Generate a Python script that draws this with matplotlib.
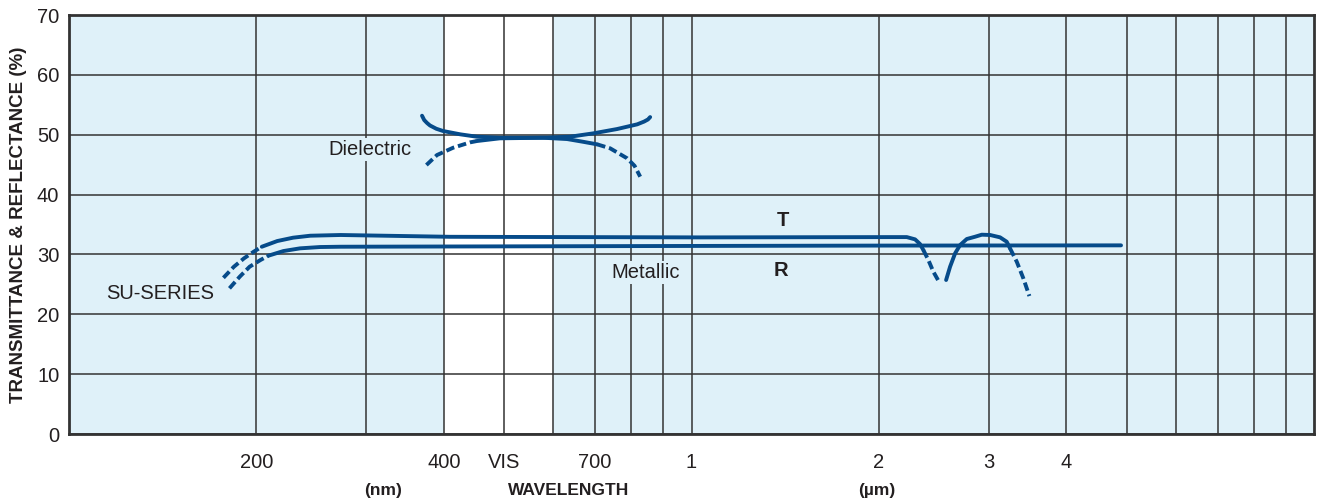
import numpy as np
import matplotlib.pyplot as plt
from matplotlib.ticker import FixedLocator, NullFormatter
import matplotlib.transforms as mtransforms

plt.rcParams["font.family"] = ["Liberation Sans", "DejaVu Sans"]

# --- data (wavelength in nm, value in %) ---

# SU-SERIES metallic, T curve
t_dash1_wl = [177, 184, 191, 198, 204]
t_dash1_val = [26.1, 27.95, 29.35, 30.46, 31.29]
t_solid1_wl = [204, 216, 229, 244, 273, 409, 1032, 2084, 2217, 2286, 2328, 2357]
t_solid1_val = [31.29, 32.24, 32.80, 33.13, 33.25, 32.95, 32.85, 32.9, 32.9, 32.52, 31.74, 30.74]
t_dash2_wl = [2357, 2401, 2446, 2492]
t_dash2_val = [30.74, 29.07, 27.11, 25.61]
t_solid2_wl = [2564, 2602, 2651, 2700, 2768, 2854, 2926, 3017, 3130, 3208, 3248]
t_solid2_val = [25.73, 27.95, 30.19, 31.57, 32.58, 32.96, 33.30, 33.25, 32.86, 32.13, 31.02]
t_dash3_wl = [3248, 3330, 3412, 3489]
t_dash3_val = [31.02, 28.78, 26.01, 23.05]

# SU-SERIES metallic, R curve
r_dash_wl = [181, 188, 195, 203, 209]
r_dash_val = [24.34, 26.28, 27.95, 29.07, 29.79]
r_solid_wl = [209, 221, 235, 253, 273, 500, 1000, 2000, 4897]
r_solid_val = [29.79, 30.57, 31.02, 31.24, 31.29, 31.35, 31.42, 31.48, 31.52]

# Dielectric, U-shaped curve
du_wl = [369, 372, 376, 380, 389, 399, 425, 452, 492, 577, 638, 695, 759,
         818, 839, 851, 858]
du_val = [53.18, 52.45, 51.95, 51.55, 51.0, 50.62, 50.07, 49.67, 49.5, 49.5,
          49.67, 50.23, 50.95, 51.74, 52.2, 52.55, 52.95]

# Dielectric, inverted curve
dn_dash1_wl = [375, 390, 414, 441, 452]
dn_dash1_val = [44.94, 46.61, 47.83, 48.73, 48.95]
dn_solid_wl = [452, 492, 577, 631, 669, 705]
dn_solid_val = [48.95, 49.40, 49.50, 49.28, 48.83, 48.40]
dn_dash2_wl = [705, 740, 788, 810, 827]
dn_dash2_val = [48.40, 47.73, 46.06, 44.8, 42.99]

# axis ticks and grid
x_tick_pos = [200, 400, 500, 700, 1000, 2000, 3000, 4000]
x_tick_labels = ["200", "400", "VIS", "700", "1", "2", "3", "4"]
x_grid = [200, 300, 400, 500, 600, 700, 800, 900,
          1000, 2000, 3000, 4000, 5000, 6000, 7000, 8000, 9000]
y_ticks = [0, 10, 20, 30, 40, 50, 60, 70]
vis_band = (400, 600)

# --- plotting ---
BG = "#dff1f9"
LINE = "#064b8a"
GRID = "#333333"
TXT = "#231f20"

fig = plt.figure(figsize=(13.18, 5.01), dpi=100)
ax = fig.add_axes([0.0524, 0.1337, 0.9446, 0.8363])
ax.set_facecolor(BG)
ax.set_xscale("log")
ax.set_xlim(100, 10000)
ax.set_ylim(0, 70)

ax.axvspan(*vis_band, color="white", zorder=0.2, lw=0)

ax.set_xticks(x_tick_pos)
ax.set_xticklabels(x_tick_labels)
ax.xaxis.remove_overlapping_locs = False
ax.xaxis.set_minor_locator(FixedLocator(x_grid))
ax.xaxis.set_minor_formatter(NullFormatter())
ax.set_yticks(y_ticks)
ax.set_axisbelow(True)
ax.grid(which="minor", axis="x", color=GRID, lw=1.1)
ax.grid(which="major", axis="y", color=GRID, lw=1.1)
ax.tick_params(which="both", length=0)
ax.tick_params(axis="x", pad=14, labelsize=14.5, labelcolor=TXT)
ax.tick_params(axis="y", pad=7, labelsize=14.5, labelcolor=TXT)
for s in ax.spines.values():
    s.set_linewidth(2.0)
    s.set_color(GRID)

solid = dict(color=LINE, lw=2.8, solid_capstyle="round",
             solid_joinstyle="round", zorder=4)
dashed = dict(color=LINE, lw=2.8, dashes=(2.2, 1.0), zorder=4)

ax.plot(t_dash1_wl, t_dash1_val, **dashed)
ax.plot(t_solid1_wl, t_solid1_val, **solid)
ax.plot(t_dash2_wl, t_dash2_val, **dashed)
ax.plot(t_solid2_wl, t_solid2_val, **solid)
ax.plot(t_dash3_wl, t_dash3_val, **dashed)
ax.plot(r_dash_wl, r_dash_val, **dashed)
ax.plot(r_solid_wl, r_solid_val, **solid)
ax.plot(du_wl, du_val, **solid)
ax.plot(dn_dash1_wl, dn_dash1_val, **dashed)
ax.plot(dn_solid_wl, dn_solid_val, **solid)
ax.plot(dn_dash2_wl, dn_dash2_val, **dashed)

box = dict(facecolor=BG, edgecolor="none", pad=1.5)
ax.text(304, 47.6, "Dielectric", ha="center", va="center", fontsize=14.5,
        color=TXT, bbox=box, zorder=3)
ax.text(845, 27.06, "Metallic", ha="center", va="center", fontsize=14.5,
        color=TXT, bbox=box, zorder=3)
ax.text(140, 23.4, "SU-SERIES", ha="center", va="center", fontsize=14.5,
        color=TXT, zorder=3)
ax.text(1403, 35.6, "T", ha="center", va="center", fontsize=14.5,
        fontweight="bold", color=TXT, zorder=3)
ax.text(1393, 27.4, "R", ha="center", va="center", fontsize=14.5,
        fontweight="bold", color=TXT, zorder=3)

ax.set_ylabel("TRANSMITTANCE & REFLECTANCE (%)", fontsize=13.5,
              fontweight="bold", color=TXT, labelpad=7)

trans = mtransforms.blended_transform_factory(ax.transData, ax.transAxes)
for xpos, lab in [(319, "(nm)"), (635, "WAVELENGTH"), (1987, "(µm)")]:
    ax.text(xpos, -0.136, lab, transform=trans, ha="center", va="center",
            fontsize=12.5, fontweight="bold", color=TXT)

fig.savefig("out.png", dpi=100)
